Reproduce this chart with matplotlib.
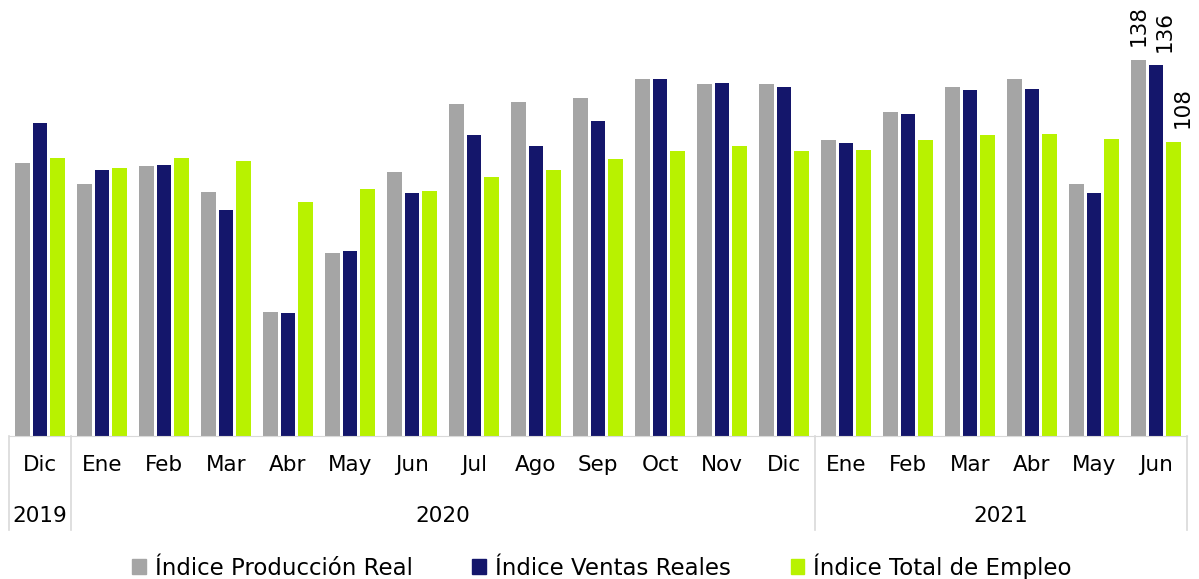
import numpy as np
import matplotlib.pyplot as plt
from matplotlib.patches import Patch

plt.rcParams['font.family'] = ['DejaVu Sans']

months = ['Dic', 'Ene', 'Feb', 'Mar', 'Abr', 'May', 'Jun', 'Jul', 'Ago', 'Sep',
          'Oct', 'Nov', 'Dic', 'Ene', 'Feb', 'Mar', 'Abr', 'May', 'Jun']
years = ['2019', '2020', '2021']
year_spans = [(0, 0), (1, 12), (13, 18)]

produccion = [100, 92.5, 99, 89.5, 45.5, 67, 97, 122, 122.5, 124, 131, 129, 129,
              108.5, 119, 128, 131, 92.5, 138]
ventas = [115, 97.5, 99.5, 83, 45, 68, 89, 110.5, 106.5, 115.5, 131, 129.5, 128,
          107.5, 118, 127, 127.5, 89, 136]
empleo = [102, 98.5, 102, 101, 86, 90.5, 90, 95, 97.5, 101.5, 104.5, 106.5, 104.5,
          105, 108.5, 110.5, 111, 109, 108]

labels = ['Índice Producción Real', 'Índice Ventas Reales', 'Índice Total de Empleo']
colors = ['#a5a5a5', '#14166b', '#b8f200']

fig = plt.figure(figsize=(11.99, 5.79), dpi=100)
ax = fig.add_axes([0.0075, 0.247, 0.9825, 0.753])

x = np.arange(len(months))
w = 0.235
step = 0.285
series = [produccion, ventas, empleo]
label_shift = [0.0, 0.14, 0.14]
for i, (vals, c) in enumerate(zip(series, colors)):
    bars = ax.bar(x + (i - 1) * step, vals, width=w, color=c, zorder=2)
    last = bars[-1]
    ax.text(last.get_x() + last.get_width() / 2 + label_shift[i],
            last.get_height() + 5, f'{vals[-1]:.0f}', rotation=90,
            ha='center', va='bottom', fontsize=15.5)

ax.set_xlim(-0.5, len(months) - 0.5)
ax.set_ylim(0, 160)
for s in ['top', 'right', 'left']:
    ax.spines[s].set_visible(False)
ax.spines['bottom'].set_color('#d9d9d9')
ax.set_yticks([])
ax.set_xticks(x)
ax.set_xticklabels(months, fontsize=15.5)
ax.tick_params(axis='x', length=0, pad=14)

# year row and separators
trans = ax.get_xaxis_transform()
for yr, (a, b) in zip(years, year_spans):
    ax.text((a + b) / 2, -0.183, yr, transform=trans, ha='center', va='center',
            fontsize=15.5, clip_on=False)
for xs in [-0.5, 0.5, 12.5, 18.5]:
    ax.plot([xs, xs], [0, -0.216], transform=trans, color='#d9d9d9', lw=1.2,
            clip_on=False)

handles = [Patch(color=c, label=l) for c, l in zip(colors, labels)]
fig.legend(handles=handles, loc='center', bbox_to_anchor=(0.502, 0.022),
           ncol=3, frameon=False, fontsize=16.5, handlelength=0.6, handleheight=0.6,
           handletextpad=0.4, columnspacing=2.6, borderpad=0)

fig.savefig('out.png', dpi=100)
